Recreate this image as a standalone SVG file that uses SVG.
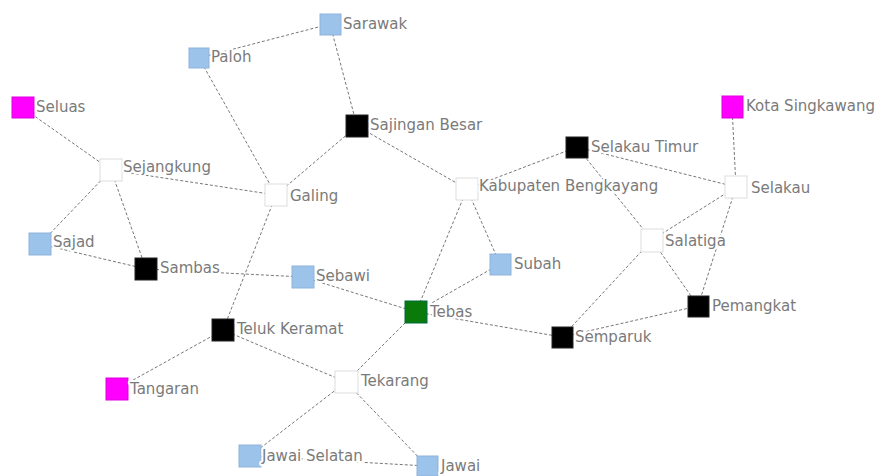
<svg xmlns="http://www.w3.org/2000/svg" width="877" height="476" viewBox="0 0 877 476">
<style>
.e{stroke:#777;stroke-width:1;stroke-dasharray:3,2;fill:none}
.n{stroke-width:1}
.b{fill:#9cc3ea;stroke:#8fb3da}
.k{fill:#000;stroke:#222}
.m{fill:#f0f;stroke:#d0d}
.g{fill:#0a7a0a;stroke:#064}
.w{fill:#fff;stroke:#ddd}
text{font-family:"DejaVu Sans",Verdana,sans-serif;font-size:15px;fill:#7a7a7a;dominant-baseline:central;stroke:#fff;stroke-width:4;paint-order:stroke;stroke-linejoin:round}
</style>
<rect width="877" height="476" fill="#fff"/>
<g id="edges">
<line class="e" x1="199" y1="58" x2="330" y2="24"/>
<line class="e" x1="330" y1="24" x2="357" y2="126"/>
<line class="e" x1="199" y1="58" x2="276" y2="195"/>
<line class="e" x1="357" y1="126" x2="276" y2="195"/>
<line class="e" x1="357" y1="126" x2="467" y2="189"/>
<line class="e" x1="23" y1="108" x2="111" y2="170"/>
<line class="e" x1="111" y1="170" x2="276" y2="195"/>
<line class="e" x1="111" y1="170" x2="40" y2="244"/>
<line class="e" x1="111" y1="170" x2="146" y2="269"/>
<line class="e" x1="40" y1="244" x2="146" y2="269"/>
<line class="e" x1="146" y1="269" x2="303" y2="277"/>
<line class="e" x1="276" y1="195" x2="223" y2="330"/>
<line class="e" x1="303" y1="277" x2="416" y2="312"/>
<line class="e" x1="467" y1="189" x2="416" y2="312"/>
<line class="e" x1="467" y1="189" x2="500" y2="264"/>
<line class="e" x1="500" y1="264" x2="416" y2="312"/>
<line class="e" x1="467" y1="189" x2="577" y2="147"/>
<line class="e" x1="577" y1="147" x2="736" y2="187"/>
<line class="e" x1="577" y1="147" x2="652" y2="240"/>
<line class="e" x1="732" y1="107" x2="736" y2="187"/>
<line class="e" x1="736" y1="187" x2="652" y2="240"/>
<line class="e" x1="736" y1="187" x2="698" y2="306"/>
<line class="e" x1="652" y1="240" x2="698" y2="306"/>
<line class="e" x1="652" y1="240" x2="562" y2="337"/>
<line class="e" x1="562" y1="337" x2="698" y2="306"/>
<line class="e" x1="416" y1="312" x2="562" y2="337"/>
<line class="e" x1="416" y1="312" x2="346" y2="382"/>
<line class="e" x1="223" y1="330" x2="117" y2="389"/>
<line class="e" x1="223" y1="330" x2="346" y2="382"/>
<line class="e" x1="346" y1="382" x2="250" y2="456"/>
<line class="e" x1="346" y1="382" x2="427" y2="466"/>
<line class="e" x1="250" y1="456" x2="427" y2="466"/>
</g>
<g id="sarawak"><rect class="n b" x="320" y="14" width="21" height="21"/><text x="343" y="24">Sarawak</text></g>
<g id="paloh"><rect class="n b" x="189" y="48" width="20" height="20"/><text x="211" y="57">Paloh</text></g>
<g id="seluas"><rect class="n m" x="12" y="97" width="22" height="21"/><text x="36" y="107">Seluas</text></g>
<g id="sajingan-besar"><rect class="n k" x="346" y="115" width="22" height="22"/><text x="370" y="125">Sajingan Besar</text></g>
<g id="sejangkung"><rect class="n w" x="100" y="159" width="22" height="22"/><text x="123" y="167">Sejangkung</text></g>
<g id="galing"><rect class="n w" x="265" y="184" width="22" height="22"/><text x="290" y="196">Galing</text></g>
<g id="kabupaten-bengkayang"><rect class="n w" x="456" y="178" width="22" height="22"/><text x="479" y="186">Kabupaten Bengkayang</text></g>
<g id="selakau-timur"><rect class="n k" x="566" y="137" width="22" height="21"/><text x="591" y="147">Selakau Timur</text></g>
<g id="kota-singkawang"><rect class="n m" x="722" y="96" width="21" height="22"/><text x="746" y="106">Kota Singkawang</text></g>
<g id="selakau"><rect class="n w" x="725" y="176" width="22" height="22"/><text x="751" y="188">Selakau</text></g>
<g id="salatiga"><rect class="n w" x="641" y="229" width="22" height="23"/><text x="665" y="241">Salatiga</text></g>
<g id="pemangkat"><rect class="n k" x="688" y="296" width="21" height="21"/><text x="712" y="306">Pemangkat</text></g>
<g id="semparuk"><rect class="n k" x="552" y="327" width="21" height="21"/><text x="575" y="337">Semparuk</text></g>
<g id="tebas"><rect class="n g" x="405" y="301" width="22" height="22"/><text x="430" y="312">Tebas</text></g>
<g id="subah"><rect class="n b" x="490" y="254" width="21" height="21"/><text x="514" y="264">Subah</text></g>
<g id="sebawi"><rect class="n b" x="292" y="266" width="22" height="22"/><text x="316" y="276">Sebawi</text></g>
<g id="sambas"><rect class="n k" x="135" y="258" width="22" height="22"/><text x="160" y="268">Sambas</text></g>
<g id="sajad"><rect class="n b" x="29" y="233" width="22" height="22"/><text x="53" y="242">Sajad</text></g>
<g id="teluk-keramat"><rect class="n k" x="212" y="319" width="22" height="22"/><text x="237" y="329">Teluk Keramat</text></g>
<g id="tangaran"><rect class="n m" x="106" y="378" width="22" height="22"/><text x="130" y="389">Tangaran</text></g>
<g id="tekarang"><rect class="n w" x="335" y="371" width="23" height="22"/><text x="361" y="381">Tekarang</text></g>
<g id="jawai-selatan"><rect class="n b" x="239" y="445" width="22" height="22"/><text x="262" y="456">Jawai Selatan</text></g>
<g id="jawai"><rect class="n b" x="417" y="456" width="21" height="20"/><text x="441" y="466">Jawai</text></g>
</svg>
